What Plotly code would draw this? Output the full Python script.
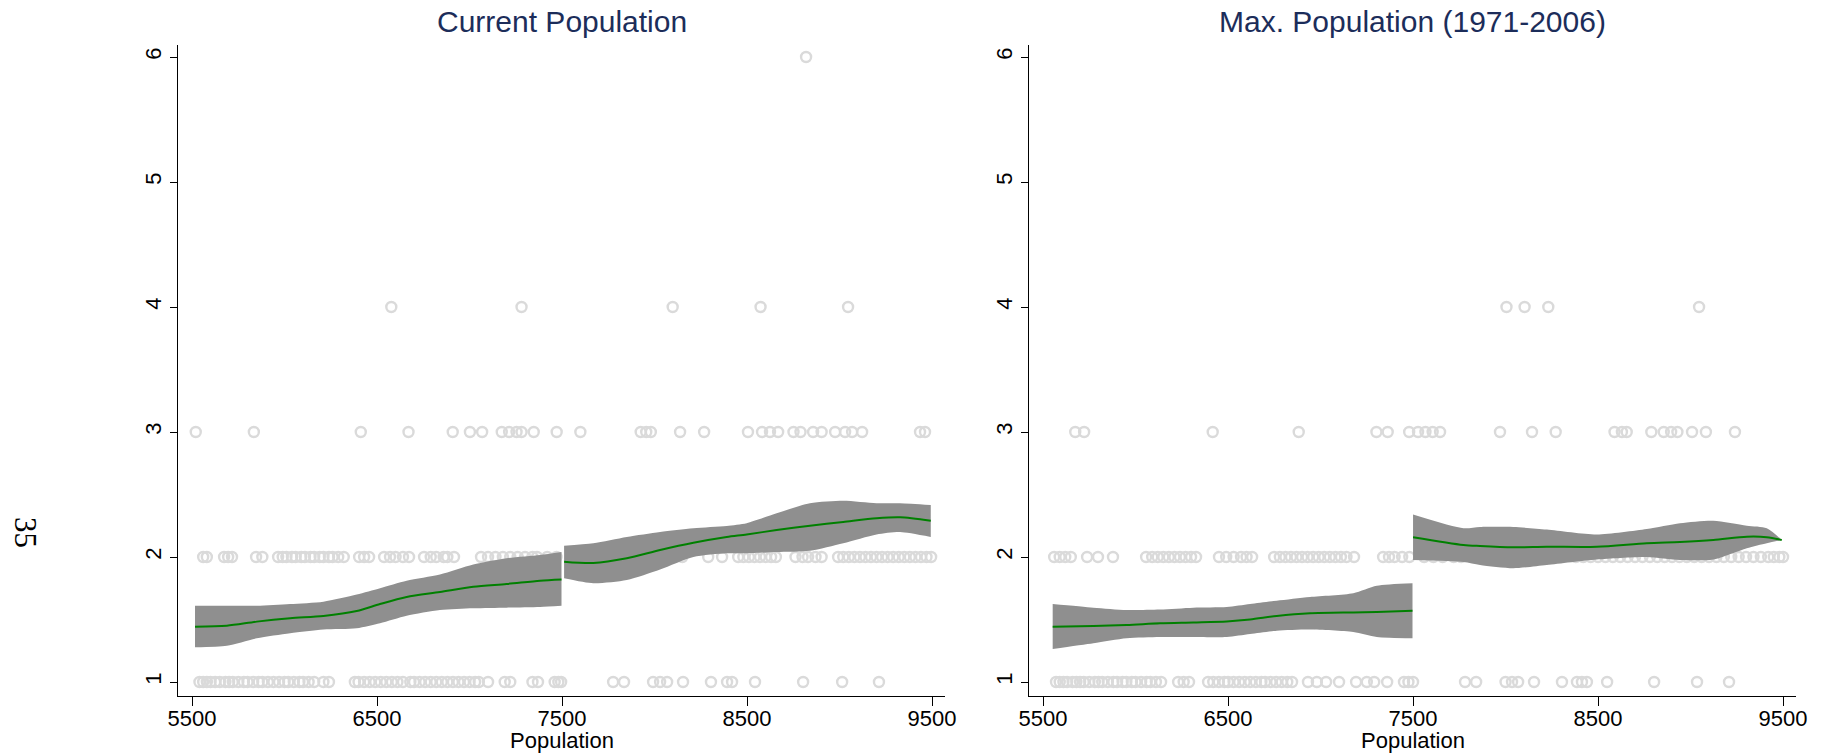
import plotly.graph_objects as go

# ---------------- data ----------------
panel_titles = ["Current Population", "Max. Population (1971-2006)"]
x_label = "Population"
x_ticks = [5500, 6500, 7500, 8500, 9500]
y_ticks = [1, 2, 3, 4, 5, 6]

# Current population: observed outcome values (y) by population
cur_y1 = [5540, 5560, 5580, 5600, 5625, 5650, 5680, 5700, 5720, 5750, 5780, 5800, 5830, 5860, 5880,
          5910, 5940, 5970, 6000, 6020, 6050, 6080, 6100, 6130, 6160, 6210, 6240, 6380, 6400, 6430,
          6460, 6490, 6520, 6550, 6580, 6610, 6640, 6680, 6700, 6730, 6760, 6790, 6820, 6850, 6880,
          6910, 6940, 6970, 7000, 7030, 7050, 7100, 7190, 7220, 7340, 7370, 7460, 7480, 7495, 7776,
          7835, 7992, 8030, 8068, 8154, 8305, 8392, 8419, 8543, 8803, 9014, 9213]
cur_y2 = [5560, 5580, 5673, 5695, 5716, 5846, 5880, 5965, 5990, 6010, 6040, 6060, 6090, 6110, 6140,
          6160, 6190, 6210, 6240, 6260, 6290, 6320, 6403, 6430, 6457, 6538, 6570, 6600, 6640, 6673,
          6754, 6790, 6820, 6860, 6880, 6916, 7062, 7100, 7140, 7180, 7220, 7260, 7300, 7340, 7365,
          7420, 7470, 7600, 7750, 7900, 8050, 8150, 8290, 8365, 8452, 8480, 8510, 8540, 8570, 8600,
          8630, 8656, 8762, 8800, 8830, 8870, 8903, 8992, 9020, 9050, 9080, 9110, 9140, 9170, 9200,
          9230, 9260, 9290, 9320, 9350, 9380, 9410, 9440, 9470, 9495]
cur_y3 = [5520, 5834, 6412, 6670, 6909, 7002, 7068, 7174, 7214, 7254, 7281, 7347, 7471, 7599, 7925,
          7955, 7980, 8138, 8268, 8505, 8581, 8624, 8668, 8751, 8789, 8857, 8903, 8976, 9030, 9068,
          9122, 9435, 9462]
cur_y4 = [6577, 7281, 8098, 8573, 9046]
cur_y6 = [8819]

# Current population: local fit and confidence band, below / above the 7500 cutoff
cur_fx1 = [5516, 5688, 5850, 6030, 6210, 6390, 6516, 6660, 6840, 7020, 7200, 7381, 7497]
cur_fit1 = [1.442, 1.45, 1.483, 1.51, 1.528, 1.568, 1.624, 1.68, 1.72, 1.762, 1.784, 1.81, 1.82]
cur_hi1 = [1.61, 1.61, 1.61, 1.624, 1.643, 1.70, 1.75, 1.81, 1.86, 1.94, 1.99, 2.016, 2.04]
cur_lo1 = [1.278, 1.29, 1.35, 1.39, 1.42, 1.43, 1.47, 1.53, 1.576, 1.59, 1.595, 1.60, 1.61]

cur_fx2 = [7511, 7669, 7850, 8030, 8210, 8390, 8498, 8660, 8840, 9020, 9200, 9327, 9493]
cur_fit2 = [1.963, 1.952, 1.99, 2.056, 2.114, 2.16, 2.18, 2.216, 2.25, 2.28, 2.31, 2.318, 2.29]
cur_hi2 = [2.09, 2.11, 2.16, 2.20, 2.23, 2.248, 2.27, 2.35, 2.43, 2.45, 2.43, 2.43, 2.416]
cur_lo2 = [1.83, 1.79, 1.816, 1.90, 2.00, 2.03, 2.03, 2.04, 2.05, 2.11, 2.18, 2.20, 2.16]

# Max population
max_y1 = [5570, 5590, 5610, 5630, 5660, 5680, 5700, 5720, 5750, 5780, 5800, 5820, 5850, 5880, 5900,
          5930, 5950, 5980, 6000, 6030, 6060, 6080, 6110, 6138, 6230, 6260, 6289, 6392, 6420, 6450,
          6480, 6500, 6530, 6560, 6590, 6620, 6650, 6680, 6700, 6730, 6760, 6790, 6820, 6846, 6932,
          6980, 7030, 7100, 7192, 7250, 7290, 7360, 7451, 7475, 7500, 7781, 7841, 8000, 8035, 8068,
          8154, 8305, 8386, 8413, 8440, 8549, 8803, 9035, 9208]
max_y2 = [5560, 5590, 5620, 5650, 5738, 5797, 5878, 6057, 6090, 6120, 6150, 6180, 6210, 6240, 6270,
          6300, 6327, 6451, 6490, 6530, 6570, 6600, 6630, 6749, 6780, 6810, 6840, 6870, 6900, 6930,
          6960, 6990, 7020, 7050, 7080, 7110, 7140, 7181, 7338, 7370, 7400, 7441, 7480, 7560, 7610,
          7660, 7720, 7760, 7900, 8000, 8100, 8200, 8300, 8380, 8420, 8460, 8500, 8540, 8580, 8620,
          8660, 8700, 8740, 8780, 8820, 8860, 8900, 8940, 8980, 9020, 9060, 9100, 9140, 9180, 9220,
          9260, 9300, 9340, 9380, 9420, 9450, 9480, 9500]
max_y3 = [5674, 5722, 6417, 6882, 7302, 7363, 7479, 7527, 7567, 7606, 7646, 7970, 8143, 8271, 8589,
          8629, 8655, 8788, 8855, 8895, 8929, 9008, 9083, 9240]
max_y4 = [8005, 8103, 8231, 9046]

max_fx1 = [5552, 5772, 5952, 6132, 6312, 6493, 6619, 6763, 6943, 7177, 7304, 7497]
max_fit1 = [1.442, 1.448, 1.456, 1.47, 1.477, 1.485, 1.50, 1.528, 1.55, 1.557, 1.56, 1.57]
max_hi1 = [1.624, 1.595, 1.576, 1.58, 1.595, 1.60, 1.624, 1.65, 1.68, 1.71, 1.77, 1.79]
max_lo1 = [1.264, 1.31, 1.35, 1.36, 1.36, 1.36, 1.384, 1.41, 1.42, 1.40, 1.36, 1.35]

max_fx2 = [7500, 7772, 7862, 8042, 8223, 8493, 8763, 8943, 9123, 9304, 9412, 9493]
max_fit2 = [2.158, 2.096, 2.088, 2.078, 2.082, 2.082, 2.11, 2.12, 2.136, 2.162, 2.158, 2.136]
max_hi2 = [2.34, 2.23, 2.24, 2.24, 2.22, 2.18, 2.224, 2.27, 2.29, 2.25, 2.23, 2.136]
max_lo2 = [1.976, 1.96, 1.936, 1.91, 1.936, 1.98, 2.0, 1.976, 1.98, 2.07, 2.11, 2.136]

page_label = "35"

# ---------------- styles ----------------
PT_COLOR = "#dadada"
BAND_COLOR = "#8f8f8f"
LINE_COLOR = "#008000"
TITLE_COLOR = "#1c2d5a"
FONT = "Liberation Sans, Arial, sans-serif"

fig = go.Figure()


def add_points(xs, yval, xa, ya):
    fig.add_trace(go.Scatter(
        x=xs, y=[yval] * len(xs), mode="markers", xaxis=xa, yaxis=ya,
        marker=dict(symbol="circle-open", size=10, color=PT_COLOR, line=dict(width=2.4, color=PT_COLOR)),
        showlegend=False, hoverinfo="skip"))


def add_band(fx, lo, hi, fit, xa, ya):
    # lower edge, then upper edge filled down to it
    fig.add_trace(go.Scatter(
        x=fx, y=lo, mode="lines",
        line=dict(width=0, color=BAND_COLOR, shape="spline", smoothing=0.7),
        xaxis=xa, yaxis=ya, showlegend=False, hoverinfo="skip"))
    fig.add_trace(go.Scatter(
        x=fx, y=hi, mode="lines", fill="tonexty", fillcolor=BAND_COLOR,
        line=dict(width=0, color=BAND_COLOR, shape="spline", smoothing=0.7),
        xaxis=xa, yaxis=ya, showlegend=False, hoverinfo="skip"))
    fig.add_trace(go.Scatter(
        x=fx, y=fit, mode="lines", line=dict(color=LINE_COLOR, width=2, shape="spline", smoothing=0.8),
        xaxis=xa, yaxis=ya, showlegend=False, hoverinfo="skip"))


panels = [
    ("x", "y", {1: cur_y1, 2: cur_y2, 3: cur_y3, 4: cur_y4, 6: cur_y6},
     [(cur_fx1, cur_lo1, cur_hi1, cur_fit1), (cur_fx2, cur_lo2, cur_hi2, cur_fit2)]),
    ("x2", "y2", {1: max_y1, 2: max_y2, 3: max_y3, 4: max_y4},
     [(max_fx1, max_lo1, max_hi1, max_fit1), (max_fx2, max_lo2, max_hi2, max_fit2)]),
]

for xa, ya, pts, bands in panels:
    for yval, xs in pts.items():
        add_points(xs, yval, xa, ya)
    for fx, lo, hi, fit in bands:
        add_band(fx, lo, hi, fit, xa, ya)

W, H = 1828, 756
left_dom = [178 / W, 945 / W]
right_dom = [1029 / W, 1796 / W]
y_dom = [(H - 696) / H, (H - 45) / H]

xaxis_common = dict(
    range=[5424, 9570], tickvals=x_ticks, ticktext=[str(v) for v in x_ticks],
    showline=True, linecolor="black", linewidth=1.2, ticks="outside", ticklen=9, tickwidth=1.2,
    tickcolor="black", showgrid=False, zeroline=False, mirror=False, automargin=False,
    ticklabelstandoff=-7,
    tickfont=dict(family=FONT, size=22, color="black"),
)
yaxis_common = dict(
    range=[0.888, 6.096], tickvals=y_ticks, ticktext=[str(v) for v in y_ticks],
    showline=True, linecolor="black", linewidth=1.2, ticks="outside", ticklen=7, tickwidth=1.2,
    tickcolor="black", showgrid=False, zeroline=False, tickangle=-90, automargin=False,
    tickfont=dict(family=FONT, size=22, color="black"),
)

fig.update_layout(
    width=W, height=H, plot_bgcolor="white", paper_bgcolor="white",
    margin=dict(l=0, r=0, t=0, b=0, autoexpand=False),
    xaxis=dict(domain=left_dom, anchor="y", **xaxis_common),
    yaxis=dict(domain=y_dom, anchor="x", **yaxis_common),
    xaxis2=dict(domain=right_dom, anchor="y2", **xaxis_common),
    yaxis2=dict(domain=y_dom, anchor="x2", **yaxis_common),
    showlegend=False,
)

annotations = []
for title, dom in zip(panel_titles, [left_dom, right_dom]):
    mid = (dom[0] + dom[1]) / 2
    annotations.append(dict(
        text=title, xref="paper", yref="paper", x=mid, y=1 - 22 / H,
        xanchor="center", yanchor="middle", showarrow=False,
        font=dict(family=FONT, size=30, color=TITLE_COLOR)))
    annotations.append(dict(
        text=x_label, xref="paper", yref="paper", x=mid, y=1 - 740 / H,
        xanchor="center", yanchor="middle", showarrow=False,
        font=dict(family=FONT, size=22, color="black")))
annotations.append(dict(
    text=page_label, xref="paper", yref="paper", x=26 / W, y=1 - 532 / H,
    xanchor="center", yanchor="middle", showarrow=False, textangle=90,
    font=dict(family="Liberation Serif, Times New Roman, serif", size=31, color="black")))
fig.update_layout(annotations=annotations)

fig.write_html(
    "out.html",
    config={"displayModeBar": False},
    post_script="document.body.style.margin='0';document.body.style.overflow='hidden';",
)
